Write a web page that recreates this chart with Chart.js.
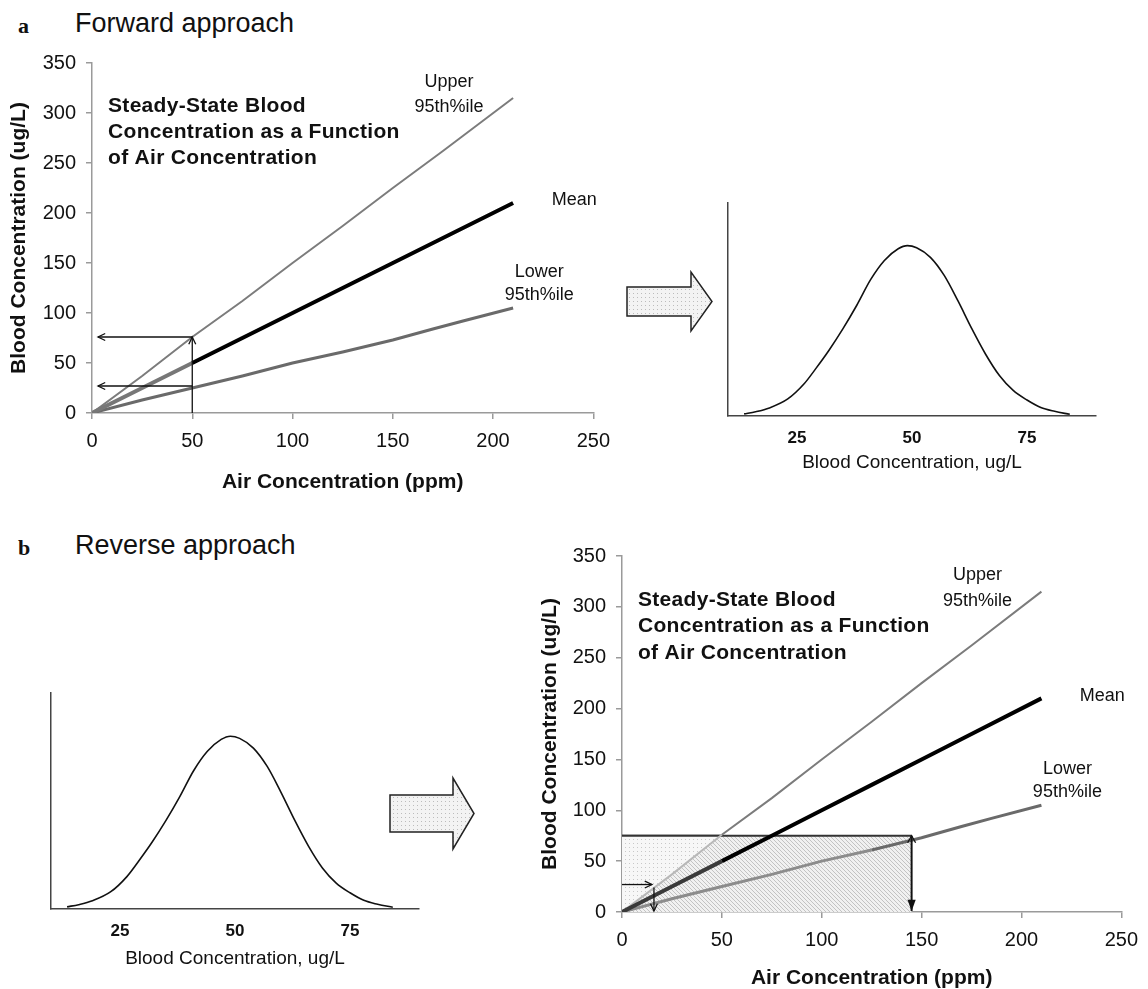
<!DOCTYPE html>
<html>
<head>
<meta charset="utf-8">
<script src="https://cdn.jsdelivr.net/npm/chart.js@4.4.1/dist/chart.umd.min.js"></script>
<style>
  body { margin: 0; background: #fff; width: 1148px; height: 989px; position: relative; overflow: hidden;
         font-family: "Liberation Sans", Arial, sans-serif; color: #111; }
  canvas { position: absolute; }
  .lbl { position: absolute; white-space: nowrap; }
  .tag { font-family: "Liberation Serif", "Times New Roman", serif; font-weight: bold; font-size: 22px; line-height: 22px; }
  .head { font-size: 27px; line-height: 27px; }
  svg { position: absolute; left: 0; top: 0; }
</style>
</head>
<body>
<div class="lbl tag" style="left:18px;top:15px">a</div>
<div class="lbl head" style="left:75px;top:10px">Forward approach</div>
<div class="lbl tag" style="left:18px;top:537px">b</div>
<div class="lbl head" style="left:75px;top:532px">Reverse approach</div>

<canvas id="chartA" width="620" height="460" style="left:0;top:40px"></canvas>
<canvas id="chartB" width="500" height="310" style="left:640px;top:180px"></canvas>
<canvas id="chartC" width="460" height="300" style="left:0;top:670px"></canvas>
<canvas id="chartD" width="628" height="459" style="left:520px;top:530px"></canvas>

<svg width="1148" height="989">
  <defs>
    <pattern id="dots" width="4" height="4" patternUnits="userSpaceOnUse">
      <rect width="4" height="4" fill="#f3f3f3"/>
      <rect x="1" y="1" width="1" height="1" fill="#bcbcbc"/>
    </pattern>
  </defs>
  <polygon points="627,287 691,287 691,272 712,301.5 691,331 691,316 627,316" fill="url(#dots)" stroke="#222" stroke-width="1.5"/>
  <polygon points="390,795 453,795 453,778 474,813.5 453,849 453,832 390,832" fill="url(#dots)" stroke="#222" stroke-width="1.5"/>
</svg>

<script>
// air concentration (ppm) vs steady-state blood concentration (ug/L)
const airX   = [0, 25, 50, 75, 100, 125, 150, 175, 210];
const upperY = [0, 37, 76, 112, 150, 187, 225, 262, 315];
const meanY  = [0, 25, 50, 75, 100, 125, 150, 175, 210];
const lowerX = [0, 25, 50, 75, 100, 125, 150, 170, 185, 210];
const lowerY = [0, 13, 25, 37, 50, 61, 73, 84, 92, 105];
const airTicks   = [0, 50, 100, 150, 200, 250];
const bloodTicks = [0, 50, 100, 150, 200, 250, 300, 350];

// blood concentration distribution (relative density)
const distX = [13.5, 16, 19, 23, 26.5, 29, 32, 35, 38, 41, 44, 47, 49, 51, 54, 57, 60, 63, 66, 69, 72, 75, 78, 81, 84.3];
const distY = [0.01, 0.02, 0.038, 0.08, 0.15, 0.22, 0.31, 0.41, 0.52, 0.64, 0.73, 0.785, 0.8, 0.79, 0.745, 0.66, 0.54, 0.41, 0.29, 0.19, 0.12, 0.075, 0.04, 0.022, 0.008];
const distTicks = [25, 50, 75];

// reverse approach: blood level 75 ug/L maps back to 145 ppm
const cutBlood = 75;
const cutAir = 145;
const upperHitX = [0, 50];
const upperHitY = [0, 75];

// arrows [x1, y1, x2, y2] in data units
const arrowsA = [[50, 0, 50, 76], [50, 76, 3, 76], [50, 27, 3, 27]];
const arrowsD = [[cutAir, cutBlood, cutAir, 1], [0, 27, 15, 27], [16, 24, 16, 1]];

const noteLines = ['Steady-State Blood', 'Concentration as a Function', 'of Air Concentration'];
const curveNames = ['Upper', '95th%ile', 'Mean', 'Lower', '95th%ile'];

const FONT = '"Liberation Sans", Arial, sans-serif';
const pts = (xs, ys) => xs.map((x, i) => ({ x: x, y: ys[i] }));

function makePattern(size, draw) {
  const c = document.createElement('canvas');
  c.width = size; c.height = size;
  const g = c.getContext('2d');
  draw(g, size);
  return g.createPattern(c, 'repeat');
}
const hatch = makePattern(4, (g, s) => {
  g.fillStyle = '#f1f1f1'; g.fillRect(0, 0, s, s);
  g.strokeStyle = '#c3c3c3'; g.lineWidth = 1;
  g.beginPath();
  g.moveTo(-1, -1); g.lineTo(s + 1, s + 1);
  g.moveTo(-1, s - 1); g.lineTo(1, s + 1);
  g.moveTo(s - 1, -1); g.lineTo(s + 1, 1);
  g.stroke();
});
const dots = makePattern(4, (g, s) => {
  g.fillStyle = '#f7f7f7'; g.fillRect(0, 0, s, s);
  g.fillStyle = '#c8c8c8'; g.fillRect(1, 1, 1, 1);
});

// text labels placed through the scales
const notesPlugin = {
  id: 'notes',
  afterDatasetsDraw(chart) {
    const { ctx, scales: { x, y } } = chart;
    ctx.save();
    ctx.fillStyle = '#111';
    ctx.textBaseline = 'middle';
    ctx.font = 'bold 21px ' + FONT;
    ctx.letterSpacing = '0.3px';
    ctx.textAlign = 'left';
    [307, 280.5, 254.5].forEach((v, i) => ctx.fillText(noteLines[i], x.getPixelForValue(8), y.getPixelForValue(v)));
    ctx.letterSpacing = '0px';
    ctx.font = '18px ' + FONT;
    ctx.textAlign = 'center';
    const spots = [[178, 331], [178, 306], [240.5, 212.5], [223, 141], [223, 117.5]];
    spots.forEach((p, i) => ctx.fillText(curveNames[i], x.getPixelForValue(p[0]), y.getPixelForValue(p[1])));
    ctx.restore();
  }
};

const arrowPlugin = {
  id: 'arrows',
  afterDatasetsDraw(chart, args, opts) {
    const { ctx, scales: { x, y } } = chart;
    ctx.save();
    ctx.strokeStyle = '#111';
    ctx.fillStyle = '#111';
    (opts.list || []).forEach((a, i) => {
      const x1 = x.getPixelForValue(a[0]), y1 = y.getPixelForValue(a[1]);
      const x2 = x.getPixelForValue(a[2]), y2 = y.getPixelForValue(a[3]);
      const big = opts.filled && i === 0;
      ctx.lineWidth = big ? 2 : 1.3;
      ctx.beginPath(); ctx.moveTo(x1, y1); ctx.lineTo(x2, y2); ctx.stroke();
      const ang = Math.atan2(y2 - y1, x2 - x1);
      const size = big ? 12 : 8;
      const spread = big ? 0.35 : 0.45;
      ctx.beginPath();
      ctx.moveTo(x2 - size * Math.cos(ang - spread), y2 - size * Math.sin(ang - spread));
      ctx.lineTo(x2, y2);
      ctx.lineTo(x2 - size * Math.cos(ang + spread), y2 - size * Math.sin(ang + spread));
      if (big) { ctx.closePath(); ctx.fill(); } else { ctx.stroke(); }
      if (big) {
        // small head at the top of the vertical arrow
        ctx.lineWidth = 1.3;
        ctx.beginPath();
        ctx.moveTo(x1 - 4, y1 + 7); ctx.lineTo(x1, y1); ctx.lineTo(x1 + 4, y1 + 7);
        ctx.stroke();
      }
    });
    ctx.restore();
  }
};

function responseScales(yAxisW, xAxisH, yTitlePad, xTitlePad) {
  const grid = { display: true, drawOnChartArea: false, drawTicks: true, tickLength: 6, color: '#9a9a9a', lineWidth: 1.5 };
  const border = { display: true, color: '#9a9a9a', width: 1.5 };
  return {
    x: {
      type: 'linear', min: 0, max: 250,
      afterBuildTicks: s => { s.ticks = airTicks.map(v => ({ value: v })); },
      afterFit: s => { s.height = xAxisH; },
      grid: grid, border: border,
      ticks: { color: '#111', font: { family: FONT, size: 20 }, padding: 10, maxRotation: 0, autoSkip: false },
      title: { display: true, text: 'Air Concentration (ppm)', color: '#111',
               font: { family: FONT, size: 21, weight: 'bold' }, padding: { top: 0, bottom: xTitlePad } }
    },
    y: {
      type: 'linear', min: 0, max: 350,
      afterBuildTicks: s => { s.ticks = bloodTicks.map(v => ({ value: v })); },
      afterFit: s => { s.width = yAxisW; },
      grid: grid, border: border,
      ticks: { color: '#111', font: { family: FONT, size: 20 }, padding: 10 },
      title: { display: true, text: 'Blood Concentration (ug/L)', color: '#111',
               font: { family: FONT, size: 21, weight: 'bold' }, padding: { top: yTitlePad, bottom: 0 } }
    }
  };
}

function curveSets(fadeMeanTo, meanFade, fadeUpperTo, fadeLowerTo) {
  return [
    { label: 'Mean', data: pts(airX, meanY), borderColor: '#000', borderWidth: 4, pointRadius: 0,
      segment: { borderColor: c => c.p1.parsed.x <= fadeMeanTo ? meanFade : undefined } },
    { label: 'Upper 95th%ile', data: pts(airX, upperY), borderColor: '#7c7c7c', borderWidth: 2, pointRadius: 0,
      segment: { borderColor: c => c.p1.parsed.x <= fadeUpperTo ? '#b8b8b8' : undefined } },
    { label: 'Lower 95th%ile', data: pts(lowerX, lowerY), borderColor: '#6a6a6a', borderWidth: 3, pointRadius: 0,
      segment: { borderColor: c => c.p1.parsed.x <= fadeLowerTo ? '#8c8c8c' : undefined } }
  ];
}

const common = { responsive: false, animation: false, devicePixelRatio: 1, events: [] };

// a: forward approach response curves
new Chart(document.getElementById('chartA'), {
  type: 'line',
  data: { datasets: curveSets(50, '#777', -1, -1) },
  options: Object.assign({}, common, {
    layout: { padding: { left: 0, top: 23, right: 26, bottom: 0 } },
    scales: responseScales(92, 87, 7, 5),
    plugins: { legend: { display: false }, tooltip: { enabled: false }, arrows: { list: arrowsA, filled: false } }
  }),
  plugins: [notesPlugin, arrowPlugin]
});

function distChart(id, yAxisW, xAxisH, padRight, titlePad) {
  const grid = { display: true, drawOnChartArea: false, drawTicks: false, color: '#444', lineWidth: 1.5 };
  const border = { display: true, color: '#444', width: 1.5 };
  return new Chart(document.getElementById(id), {
    type: 'line',
    data: { datasets: [{ data: pts(distX, distY), borderColor: '#111', borderWidth: 1.6, pointRadius: 0,
                         cubicInterpolationMode: 'monotone' }] },
    options: Object.assign({}, common, {
      layout: { padding: { left: 0, top: 23, right: padRight, bottom: 0 } },
      scales: {
        x: { type: 'linear', min: 10, max: 90,
             afterBuildTicks: s => { s.ticks = distTicks.map(v => ({ value: v })); },
             afterFit: s => { s.height = xAxisH; },
             grid: grid, border: border,
             ticks: { color: '#111', font: { family: FONT, size: 17, weight: 'bold' }, padding: 12, maxRotation: 0 },
             title: { display: true, text: 'Blood Concentration, ug/L', color: '#111',
                      font: { family: FONT, size: 19 }, padding: { top: 0, bottom: titlePad } } },
        y: { type: 'linear', min: 0, max: 1,
             afterFit: s => { s.width = yAxisW; },
             grid: grid, border: border,
             ticks: { display: false } }
      },
      plugins: { legend: { display: false }, tooltip: { enabled: false } }
    })
  });
}

// distributions
distChart('chartB', 88, 74, 44, 15.5);
distChart('chartC', 51, 61, 41, 0);

// b: reverse approach with shaded range
const shadeSets = [
  { label: 'dotted edge', data: [{ x: 0, y: cutBlood }, { x: upperHitX[1], y: cutBlood }], borderColor: '#333', borderWidth: 2,
    pointRadius: 0, fill: '+1', backgroundColor: dots },
  { label: 'upper edge', data: pts(upperHitX, upperHitY), borderWidth: 0, pointRadius: 0, fill: false },
  { label: 'range', data: [{ x: 0, y: cutBlood }, { x: cutAir, y: cutBlood }], borderColor: '#333', borderWidth: 2,
    pointRadius: 0, fill: 'origin', backgroundColor: hatch }
];

new Chart(document.getElementById('chartD'), {
  type: 'line',
  data: { datasets: curveSets(50, '#3a3a3a', 50, cutAir).concat(shadeSets) },
  options: Object.assign({}, common, {
    layout: { padding: { left: 0, top: 26, right: 20, bottom: 0 } },
    scales: responseScales(102, 77, 18, -2),
    plugins: { legend: { display: false }, tooltip: { enabled: false }, filler: { propagate: false },
               arrows: { list: arrowsD, filled: true } }
  }),
  plugins: [notesPlugin, arrowPlugin]
});
</script>
</body>
</html>
